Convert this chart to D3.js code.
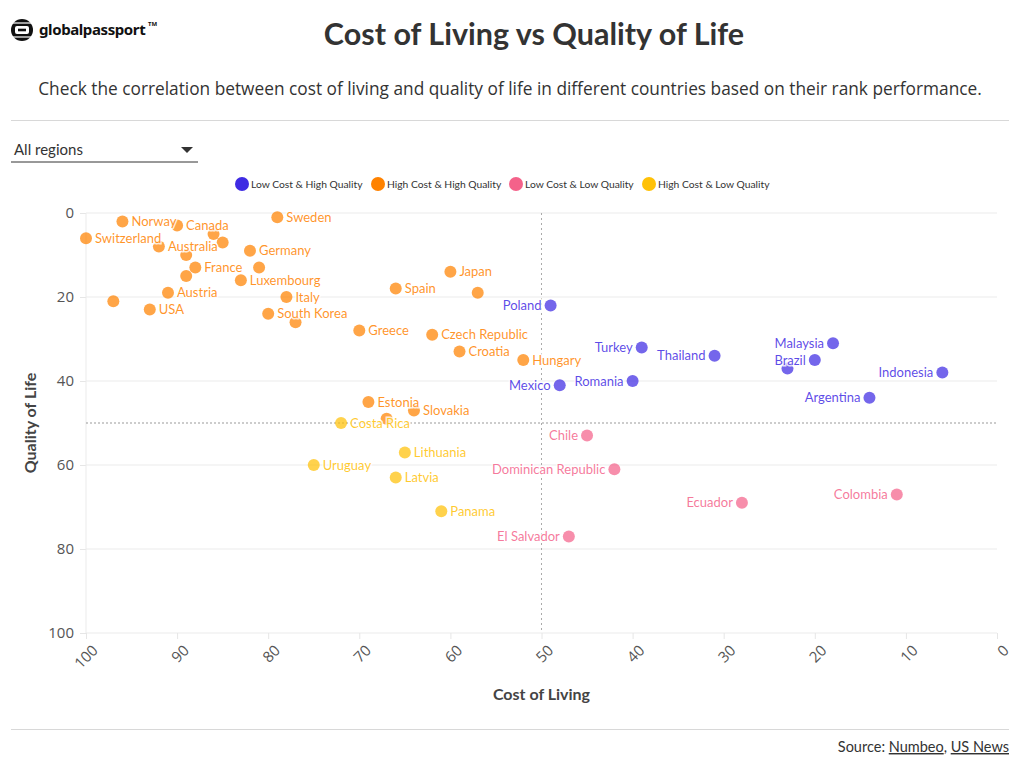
<!DOCTYPE html>
<html>
<head>
<meta charset="utf-8">
<script src="https://cdn.jsdelivr.net/npm/d3@7"></script>
<style>
  body { margin: 0; background: #fff; }
  svg { display: block; }
</style>
</head>
<body>
<svg id="chart" width="1020" height="766"></svg>
<script>
// ----------------------
// data
// ----------------------
const categories = ["Low Cost & High Quality", "High Cost & High Quality", "Low Cost & Low Quality", "High Cost & Low Quality"];
const categoryColors = ["#3f2be3", "#ff8200", "#f4628a", "#ffc107"];

// "" = dot drawn without a label
const countries = [
  "Switzerland", "Norway", "Canada", "Australia", "", "", "", "France", "",
  "Germany", "", "Luxembourg", "Sweden", "Austria", "", "USA", "Italy", "South Korea", "",
  "Japan", "", "Spain", "Greece", "Czech Republic", "Croatia", "Hungary", "Estonia", "", "Slovakia",
  "Costa Rica", "Uruguay", "Lithuania", "Latvia", "Panama",
  "Poland", "Mexico", "Turkey", "Romania", "Thailand", "Malaysia", "Brazil", "", "Indonesia", "Argentina",
  "Chile", "Dominican Republic", "Ecuador", "Colombia", "El Salvador"
];
const costOfLiving = [
  100, 96, 90, 92, 86, 85, 89, 88, 89,
  82, 81, 83, 79, 91, 97, 93, 78, 80, 77,
  60, 57, 66, 70, 62, 59, 52, 69, 67, 64,
  72, 75, 65, 66, 61,
  49, 48, 39, 40, 31, 18, 20, 23, 6, 14,
  45, 42, 28, 11, 47
];
const qualityOfLife = [
  6, 2, 3, 8, 5, 7, 10, 13, 15,
  9, 13, 16, 1, 19, 21, 23, 20, 24, 26,
  14, 19, 18, 28, 29, 33, 35, 45, 49, 47,
  50, 60, 57, 63, 71,
  22, 41, 32, 40, 34, 31, 35, 37, 38, 44,
  53, 61, 69, 67, 77
];
const categoryIndex = [
  1, 1, 1, 1, 1, 1, 1, 1, 1,
  1, 1, 1, 1, 1, 1, 1, 1, 1, 1,
  1, 1, 1, 1, 1, 1, 1, 1, 1, 1,
  3, 3, 3, 3, 3,
  0, 0, 0, 0, 0, 0, 0, 0, 0, 0,
  2, 2, 2, 2, 2
];
const xTicks = [100, 90, 80, 70, 60, 50, 40, 30, 20, 10, 0];
const yTicks = [0, 20, 40, 60, 80, 100];

const points = countries.map((c, i) => ({
  name: c, cost: costOfLiving[i], quality: qualityOfLife[i], cat: categoryIndex[i]
}));

// ----------------------
// layout
// ----------------------
const svg = d3.select("#chart");
const W = 1020, H = 766;
const margin = { top: 213, right: 23, bottom: 133, left: 86 };

const x = d3.scaleLinear().domain([100, 0]).range([margin.left, W - margin.right]);
const y = d3.scaleLinear().domain([0, 100]).range([margin.top, H - margin.bottom]);

const textFont = "Lato, 'Noto Sans', sans-serif";
const tickFont = "'Open Sans', 'Noto Sans', sans-serif";

// ----------------------
// header
// ----------------------
const logo = svg.append("g").attr("transform", "translate(22,30)");
logo.append("circle").attr("r", 11).attr("fill", "#111");
logo.append("rect").attr("x", -7).attr("y", -4).attr("width", 14).attr("height", 8).attr("rx", 2).attr("fill", "#fff");
logo.append("rect").attr("x", -4).attr("y", -1.3).attr("width", 8).attr("height", 2.6).attr("fill", "#111");
logo.append("line").attr("x1", -11).attr("x2", 11).attr("y1", -7).attr("y2", -7).attr("stroke", "#fff").attr("stroke-width", 1.2);
logo.append("line").attr("x1", -11).attr("x2", 11).attr("y1", 7).attr("y2", 7).attr("stroke", "#fff").attr("stroke-width", 1.2);
svg.append("text")
  .attr("x", 39).attr("y", 35)
  .attr("font-family", "'Noto Sans', sans-serif")
  .attr("font-weight", 700).attr("font-size", 15)
  .attr("fill", "#111")
  .attr("letter-spacing", -0.4)
  .text("globalpassport");
svg.append("text")
  .attr("x", 148).attr("y", 26)
  .attr("font-family", "'Noto Sans', sans-serif")
  .attr("font-weight", 700).attr("font-size", 6)
  .attr("fill", "#111")
  .text("TM");

svg.append("text")
  .attr("x", 534).attr("y", 45)
  .attr("text-anchor", "middle")
  .attr("font-family", textFont)
  .attr("font-weight", 700).attr("font-size", 30.5)
  .attr("fill", "#333")
  .text("Cost of Living vs Quality of Life");

svg.append("text")
  .attr("x", 510).attr("y", 95)
  .attr("text-anchor", "middle")
  .attr("font-family", tickFont)
  .attr("font-size", 17.3)
  .attr("fill", "#333")
  .text("Check the correlation between cost of living and quality of life in different countries based on their rank performance.");

svg.append("line")
  .attr("x1", 11).attr("x2", 1009).attr("y1", 120.5).attr("y2", 120.5)
  .attr("stroke", "#d8d8d8");

// dropdown
svg.append("text")
  .attr("x", 14).attr("y", 155)
  .attr("font-family", textFont)
  .attr("font-size", 15)
  .attr("fill", "#333")
  .text("All regions");
svg.append("line")
  .attr("x1", 11).attr("x2", 198).attr("y1", 162).attr("y2", 162)
  .attr("stroke", "#333").attr("stroke-width", 1);
svg.append("path")
  .attr("d", "M181,147 L193,147 L187,153 Z")
  .attr("fill", "#333");

// legend
const legendX = [242, 378, 516, 649];
const legend = svg.append("g");
categories.forEach((c, i) => {
  legend.append("circle")
    .attr("cx", legendX[i]).attr("cy", 184).attr("r", 7)
    .attr("fill", categoryColors[i]);
  legend.append("text")
    .attr("x", legendX[i] + 9).attr("y", 188)
    .attr("font-family", textFont)
    .attr("font-size", 10.3)
    .attr("fill", "#333")
    .text(c);
});

// ----------------------
// axes + grid
// ----------------------
const yAxisG = svg.append("g")
  .attr("transform", `translate(${margin.left},0)`)
  .call(d3.axisLeft(y).tickValues(yTicks).tickSize(6).tickSizeOuter(0).tickPadding(6));
yAxisG.select(".domain").remove();
yAxisG.selectAll(".tick line").attr("stroke", "#e6e6e6");
yAxisG.selectAll(".tick text")
  .attr("font-family", tickFont).attr("font-size", 15).attr("fill", "#555");

// horizontal gridlines
svg.append("g").selectAll("line")
  .data(yTicks)
  .join("line")
  .attr("x1", margin.left).attr("x2", W - margin.right)
  .attr("y1", d => y(d)).attr("y2", d => y(d))
  .attr("stroke", "#ebebeb");

svg.append("line")
  .attr("x1", x(100)).attr("x2", x(100))
  .attr("y1", y(0)).attr("y2", y(100))
  .attr("stroke", "#ebebeb");

const xAxisG = svg.append("g")
  .attr("transform", `translate(0,${y(100)})`)
  .call(d3.axisBottom(x).tickValues(xTicks).tickSize(6).tickSizeOuter(0));
xAxisG.select(".domain").remove();
xAxisG.selectAll(".tick line").attr("stroke", "#e6e6e6");
xAxisG.selectAll(".tick text")
  .attr("font-family", tickFont).attr("font-size", 15).attr("fill", "#555")
  .attr("text-anchor", "end")
  .attr("dy", 0)
  .attr("transform", "translate(6,12) rotate(-45)");

// reference lines at 50
svg.append("line")
  .attr("x1", x(50)).attr("x2", x(50))
  .attr("y1", y(0)).attr("y2", y(100))
  .attr("stroke", "#aaa").attr("stroke-dasharray", "2,3");
svg.append("line")
  .attr("x1", x(100)).attr("x2", x(0))
  .attr("y1", y(50)).attr("y2", y(50))
  .attr("stroke", "#999").attr("stroke-dasharray", "2,2");

// axis titles
svg.append("text")
  .attr("x", (x(100) + x(0)) / 2).attr("y", 700)
  .attr("text-anchor", "middle")
  .attr("font-family", textFont).attr("font-weight", 700).attr("font-size", 16)
  .attr("fill", "#444")
  .text("Cost of Living");
svg.append("text")
  .attr("transform", `translate(36,${(y(0) + y(100)) / 2}) rotate(-90)`)
  .attr("text-anchor", "middle")
  .attr("font-family", textFont).attr("font-weight", 700).attr("font-size", 16)
  .attr("fill", "#444")
  .text("Quality of Life");

// ----------------------
// points + labels
// ----------------------
const dots = svg.append("g");
dots.selectAll("circle")
  .data(points)
  .join("circle")
  .attr("cx", d => x(d.cost))
  .attr("cy", d => y(d.quality))
  .attr("r", 6)
  .attr("fill", d => categoryColors[d.cat])
  .attr("fill-opacity", 0.72);

// labels: high cost groups to the right, low cost groups to the left
const rightSide = d => d.cat === 1 || d.cat === 3;
const labels = svg.append("g")
  .selectAll("text")
  .data(points.filter(d => d.name !== ""))
  .join("text")
  .attr("x", d => x(d.cost) + (rightSide(d) ? 9 : -9))
  .attr("y", d => y(d.quality))
  .attr("dy", "0.35em")
  .attr("text-anchor", d => rightSide(d) ? "start" : "end")
  .attr("font-family", textFont)
  .attr("font-size", 13)
  .attr("fill", d => categoryColors[d.cat])
  .attr("fill-opacity", 0.85)
  .attr("paint-order", "stroke")
  .attr("stroke", "#fff").attr("stroke-width", 3).attr("stroke-opacity", 0.8)
  .text(d => d.name);

// ----------------------
// footer
// ----------------------
svg.append("line")
  .attr("x1", 11).attr("x2", 1009).attr("y1", 729.5).attr("y2", 729.5)
  .attr("stroke", "#d8d8d8");

const source = svg.append("text")
  .attr("x", 1009).attr("y", 752)
  .attr("text-anchor", "end")
  .attr("font-family", textFont).attr("font-size", 14.5)
  .attr("fill", "#333");
source.append("tspan").text("Source: ");
source.append("tspan").attr("text-decoration", "underline").text("Numbeo");
source.append("tspan").text(", ");
source.append("tspan").attr("text-decoration", "underline").text("US News");
</script>
</body>
</html>
